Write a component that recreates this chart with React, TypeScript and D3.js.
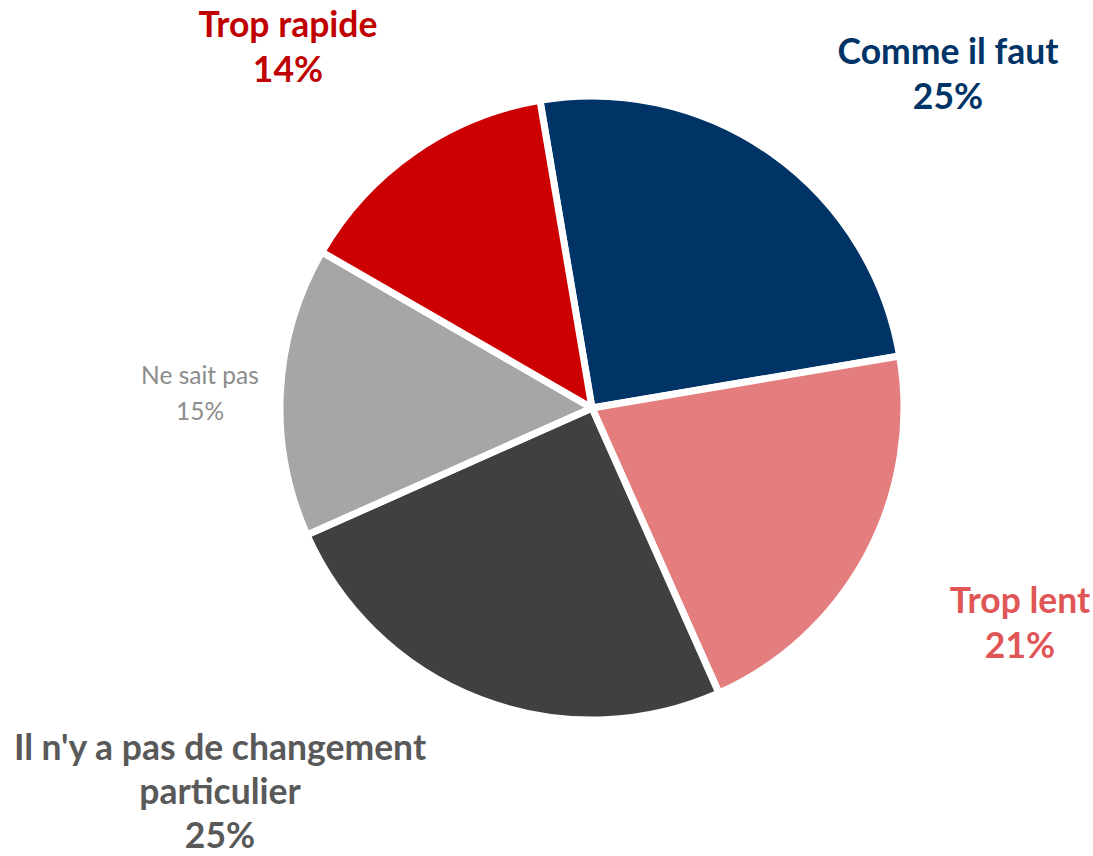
import React from "react";
import * as d3 from "d3";

const categories = ["Comme il faut", "Trop lent", "Il n'y a pas de changement particulier", "Ne sait pas", "Trop rapide"];
const values = [25, 21, 25, 15, 14];
const sliceColors = ["#003366", "#E47E7E", "#404040", "#A6A6A6", "#CC0000"];
const labelLines = [["Comme il faut"], ["Trop lent"], ["Il n'y a pas de changement", "particulier"], ["Ne sait pas"], ["Trop rapide"]];
const labelColors = ["#003366", "#E05555", "#595959", "#8C8C8C", "#C00000"];

const W = 1093, H = 856;
const cx = 592, cy = 408, R = 312;
const startDeg = -9.6;

// label placement: center x and first baseline y, font size, weight, line gap
const labelPos = [
  { x: 948, y: 64, size: 35.5, weight: 700, gap: 45 },
  { x: 1020, y: 613, size: 35.5, weight: 700, gap: 45 },
  { x: 220, y: 760, size: 35.5, weight: 700, gap: 44 },
  { x: 200, y: 384, size: 24.5, weight: 400, gap: 36 },
  { x: 288, y: 37, size: 35.5, weight: 700, gap: 45 },
];

export default function App() {
  const data = categories.map((c, i) => ({ c, v: values[i], i }));
  const start = (startDeg * Math.PI) / 180;
  const pie = d3.pie<any>().sort(null).value((d: any) => d.v).startAngle(start).endAngle(start + 2 * Math.PI);
  const arcs = pie(data);
  const arc = d3.arc<any>().innerRadius(0).outerRadius(R);
  return (
    <svg width={W} height={H} style={{ position: "absolute", left: 0, top: 0, background: "#fff" }}>
      <g transform={`translate(${cx},${cy})`}>
        {arcs.map((a, i) => (
          <path key={i} d={arc(a) as string} fill={sliceColors[i]} stroke="#fff" strokeWidth={7} strokeLinejoin="round" />
        ))}
      </g>
      {labelPos.map((p, i) => {
        const lines = [...labelLines[i], `${values[i]}%`];
        return (
          <text key={i} textAnchor="middle" fill={labelColors[i]} fontFamily="Lato, 'Open Sans', sans-serif" fontWeight={p.weight} fontSize={p.size}>
            {lines.map((l, j) => (
              <tspan key={j} x={p.x} y={p.y + j * p.gap}>{l}</tspan>
            ))}
          </text>
        );
      })}
    </svg>
  );
}
